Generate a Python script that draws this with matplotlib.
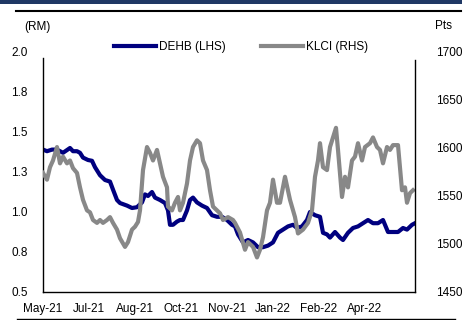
import matplotlib
matplotlib.use("Agg")
import matplotlib.pyplot as plt
import matplotlib.dates as mdates
from matplotlib.lines import Line2D
from matplotlib.patches import Rectangle
import numpy as np
import pandas as pd

plt.rcParams['font.family'] = ['Liberation Sans', 'DejaVu Sans']

start = pd.Timestamp("2021-05-25")

# DEHB share price (RM), day offsets from start
dehb_day = [0, 4, 9, 14, 17, 20, 27, 30, 34, 37, 40, 45, 49, 52, 57, 62, 67, 70, 74, 77,
            84, 89, 94, 99, 102, 105, 109, 112, 117, 122, 125, 127, 130, 134, 137, 140,
            144, 147, 150, 154, 159, 164, 169, 174, 179, 184, 189, 192, 195, 200, 205,
            210, 215, 220, 225, 230, 235, 240, 245, 250, 254, 259, 264, 267, 272, 277,
            280, 284, 287, 292, 297, 300, 305, 310, 315, 320, 325, 330, 335, 340, 345,
            350, 355, 360, 364, 369, 372]
dehb_val = [1.39, 1.38, 1.39, 1.39, 1.38, 1.37, 1.40, 1.38, 1.38, 1.37, 1.34, 1.325, 1.32,
            1.28, 1.23, 1.20, 1.19, 1.14, 1.075, 1.056, 1.04, 1.025, 1.03, 1.06, 1.11,
            1.10, 1.125, 1.09, 1.075, 1.056, 1.01, 0.92, 0.92, 0.94, 0.95, 0.95, 1.01,
            1.075, 1.09, 1.06, 1.04, 1.025, 0.98, 0.97, 0.97, 0.95, 0.92, 0.91, 0.86,
            0.81, 0.825, 0.81, 0.78, 0.78, 0.79, 0.81, 0.87, 0.89, 0.91, 0.92, 0.90,
            0.91, 0.95, 1.0, 0.98, 0.97, 0.87, 0.86, 0.84, 0.875, 0.84, 0.825, 0.87,
            0.90, 0.91, 0.93, 0.95, 0.93, 0.93, 0.95, 0.875, 0.875, 0.875, 0.90, 0.89,
            0.92, 0.93]

# KLCI index (pts)
klci_day = [0, 4, 7, 10, 14, 17, 20, 24, 27, 30, 34, 37, 40, 44, 47, 50, 54, 57, 60, 64,
            67, 70, 74, 77, 82, 85, 89, 92, 95, 97, 100, 104, 107, 110, 114, 117, 120,
            124, 125, 129, 132, 135, 137, 140, 144, 147, 150, 154, 157, 160, 164, 167,
            170, 174, 177, 180, 185, 190, 192, 197, 202, 205, 210, 214, 217, 220, 224,
            227, 230, 234, 237, 242, 247, 252, 255, 260, 265, 269, 272, 275, 277, 280,
            284, 287, 290, 293, 295, 299, 302, 305, 309, 312, 315, 319, 322, 327, 330,
            334, 337, 340, 344, 347, 350, 355, 359, 362, 364, 367, 370]
klci_val = [1574, 1567, 1580, 1587, 1601, 1584, 1591, 1584, 1587, 1579, 1574, 1559, 1546,
            1535, 1533, 1525, 1522, 1525, 1522, 1525, 1528, 1522, 1515, 1506, 1497, 1502,
            1515, 1518, 1523, 1535, 1577, 1601, 1595, 1587, 1598, 1584, 1570, 1559, 1539,
            1535, 1543, 1549, 1535, 1543, 1563, 1587, 1601, 1608, 1605, 1587, 1577, 1556,
            1539, 1535, 1532, 1525, 1528, 1525, 1522, 1512, 1494, 1502, 1497, 1486, 1494,
            1507, 1535, 1543, 1567, 1543, 1543, 1570, 1546, 1528, 1511, 1515, 1522, 1535,
            1570, 1587, 1605, 1580, 1577, 1601, 1611, 1621, 1598, 1549, 1570, 1559, 1587,
            1591, 1605, 1587, 1601, 1605, 1611, 1601, 1598, 1584, 1601, 1598, 1603, 1603,
            1556, 1559, 1543, 1553, 1556]

left_ticks = [0.5, 0.75, 1.0, 1.25, 1.5, 1.75, 2.0]
left_labels = ["0.5", "0.8", "1.0", "1.3", "1.5", "1.8", "2.0"]
right_ticks = [1450, 1500, 1550, 1600, 1650, 1700]

dehb_dates = start + pd.to_timedelta(dehb_day, unit="D")
klci_dates = start + pd.to_timedelta(klci_day, unit="D")
x_ticks = [start + pd.Timedelta(days=46 * k) for k in range(8)]

fs = 8.5
fig = plt.figure(figsize=(4.64, 3.20), dpi=100)
ax = fig.add_axes([43 / 464, 1 - 292 / 320, 372 / 464, 240 / 320])
ax2 = ax.twinx()

ax.plot(dehb_dates, dehb_val, color="#00007f", lw=3, label="DEHB (LHS)",
        solid_joinstyle="round")
ax2.plot(klci_dates, klci_val, color="#888888", lw=3, label="KLCI (RHS)",
         solid_joinstyle="round")

ax.set_xlim(start, start + pd.Timedelta(days=372))
ax.set_ylim(0.5, 2.0)
ax2.set_ylim(1450, 1700)
ax.set_yticks(left_ticks)
ax.set_yticklabels(left_labels)
ax2.set_yticks(right_ticks)
ax.set_xticks(x_ticks)
ax.xaxis.set_major_formatter(mdates.DateFormatter("%b-%y"))

ax.tick_params(axis="y", length=0, pad=11, labelsize=fs)
ax.tick_params(axis="x", length=0, pad=8, labelsize=fs)
ax2.tick_params(axis="y", length=0, pad=15, labelsize=fs)

for a in (ax, ax2):
    a.spines["top"].set_visible(False)
    a.spines["left"].set_bounds(0.5, 1.96) if a is ax else a.spines["left"].set_visible(False)
ax.spines["right"].set_visible(False)
ax2.spines["bottom"].set_visible(False)
ax2.spines["right"].set_bounds(1450, 1692)
for s in ("left", "bottom"):
    ax.spines[s].set_linewidth(1.0)
ax2.spines["right"].set_linewidth(1.0)

h1, l1 = ax.get_legend_handles_labels()
h2, l2 = ax2.get_legend_handles_labels()
ax2.legend(h1 + h2, l1 + l2, loc="center", bbox_to_anchor=(0.532, 1.02), ncol=2,
           frameon=False, fontsize=fs, handlelength=3.6, handletextpad=0.2,
           columnspacing=3.0)

fig.text(37 / 464, 1 - 27 / 320, "(RM)", ha="center", va="center", fontsize=fs)
fig.text(444 / 464, 1 - 26 / 320, "Pts", ha="center", va="center", fontsize=fs)

# header band and rules
fig.add_artist(Rectangle((0, 1 - 4 / 320), 462 / 464, 4 / 320, transform=fig.transFigure,
                         color="#1f3864", lw=0))
fig.add_artist(Line2D([16 / 464, 461 / 464], [1 - 10.5 / 320] * 2, transform=fig.transFigure,
                      color="black", lw=1.5))
fig.add_artist(Line2D([17 / 464, 455 / 464], [1 - 319 / 320] * 2, transform=fig.transFigure,
                      color="black", lw=1.0))

fig.savefig("out.png", dpi=100)
